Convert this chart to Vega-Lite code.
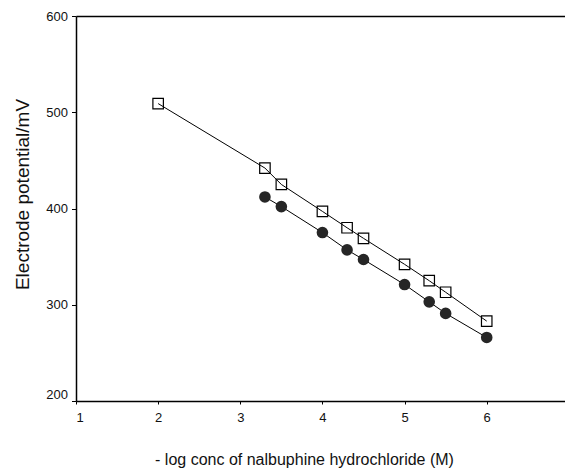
{
  "$schema": "https://vega.github.io/schema/vega-lite/v6.json",
  "autosize": {"type": "none"},
  "padding": {"left": 76, "top": 16, "right": 0, "bottom": 67},
  "width": 489,
  "height": 385,
  "background": "white",
  "config": {
    "view": {"stroke": null},
    "font": "Liberation Sans",
    "axis": {
      "grid": false,
      "domainColor": "black",
      "domainWidth": 1.5,
      "tickColor": "black",
      "tickWidth": 1,
      "labelColor": "#111",
      "labelFont": "Liberation Sans",
      "titleFont": "Liberation Sans",
      "titleFontWeight": "normal",
      "titleColor": "#111"
    }
  },
  "data": {
    "values": [
      {"logc": 2.0, "E": 509, "series": "A"},
      {"logc": 3.3, "E": 442, "series": "A"},
      {"logc": 3.5, "E": 425, "series": "A"},
      {"logc": 4.0, "E": 397, "series": "A"},
      {"logc": 4.3, "E": 380, "series": "A"},
      {"logc": 4.5, "E": 369, "series": "A"},
      {"logc": 5.0, "E": 342, "series": "A"},
      {"logc": 5.3, "E": 325, "series": "A"},
      {"logc": 5.5, "E": 313, "series": "A"},
      {"logc": 6.0, "E": 283, "series": "A"},
      {"logc": 3.3, "E": 412, "series": "B"},
      {"logc": 3.5, "E": 402, "series": "B"},
      {"logc": 4.0, "E": 375, "series": "B"},
      {"logc": 4.3, "E": 357, "series": "B"},
      {"logc": 4.5, "E": 347, "series": "B"},
      {"logc": 5.0, "E": 321, "series": "B"},
      {"logc": 5.3, "E": 303, "series": "B"},
      {"logc": 5.5, "E": 291, "series": "B"},
      {"logc": 6.0, "E": 266, "series": "B"}
    ]
  },
  "resolve": {"axis": {"x": "independent"}},
  "layer": [
    {
      "mark": {"type": "line", "color": "black", "strokeWidth": 1},
      "encoding": {
        "x": {
          "field": "logc",
          "type": "quantitative",
          "scale": {"domain": [1, 6.953], "nice": false, "zero": false},
          "axis": {
            "orient": "bottom",
            "values": [1, 2, 3, 4, 5, 6],
            "title": "- log conc of nalbuphine hydrochloride (M)",
            "titleFontSize": 16,
            "titleX": 228,
            "titleY": 63,
            "titleAnchor": null,
            "titleAlign": "center",
            "titleBaseline": "alphabetic",
            "labelFontSize": 13,
            "labelPadding": 7,
            "tickSize": 3
          }
        },
        "y": {
          "field": "E",
          "type": "quantitative",
          "scale": {"domain": [200, 600], "nice": false, "zero": false},
          "axis": {
            "values": [200, 300, 400, 500, 600],
            "title": "Electrode potential/mV",
            "titleFontSize": 19,
            "titleAngle": 270,
            "titleX": -54,
            "titleY": 178,
            "titleAlign": "center",
            "titleBaseline": "middle",
            "labelFontSize": 13,
            "labelPadding": 4,
            "tickSize": 4.5,
            "labelBaseline": {"condition": {"test": "datum.value == 200", "value": "bottom"}, "value": "middle"}
          }
        },
        "detail": {"field": "series"}
      }
    },
    {
      "transform": [{"filter": "datum.series == 'A'"}],
      "mark": {"type": "point", "shape": "square", "filled": false, "color": "black", "strokeWidth": 1.2, "size": 110, "opacity": 1},
      "encoding": {
        "x": {
          "field": "logc",
          "type": "quantitative",
          "axis": {"orient": "top", "labels": false, "ticks": false, "title": null, "domainWidth": 1.5}
        },
        "y": {"field": "E", "type": "quantitative"}
      }
    },
    {
      "transform": [{"filter": "datum.series == 'B'"}],
      "mark": {"type": "point", "shape": "circle", "filled": true, "color": "#262626", "size": 135, "opacity": 1},
      "encoding": {
        "x": {"field": "logc", "type": "quantitative", "axis": null},
        "y": {"field": "E", "type": "quantitative"}
      }
    }
  ]
}
